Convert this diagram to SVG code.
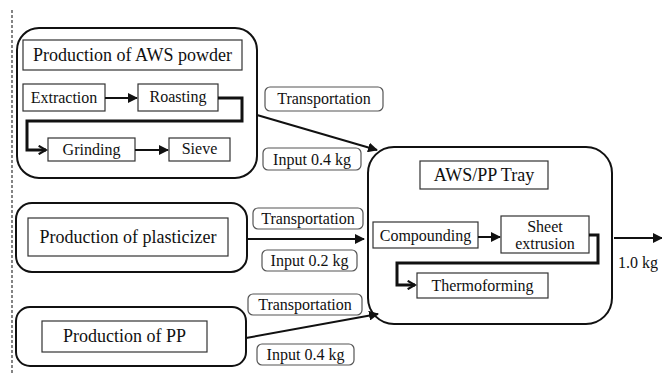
<svg xmlns="http://www.w3.org/2000/svg" width="662" height="375" viewBox="0 0 662 375">
<style>
.grp{fill:#fff;stroke:#111;stroke-width:2}
.box{fill:#fff;stroke:#333;stroke-width:1.2}
.lbl{fill:#fff;stroke:#555;stroke-width:1.2}
.t{font-family:'Liberation Serif','Times New Roman','DejaVu Serif',serif;fill:#111;text-anchor:middle}
.big{font-size:18px}
.sm{font-size:16px}
.ar{fill:none;stroke:#111;stroke-width:2;marker-end:url(#ah)}
.bold{fill:none;stroke:#111;stroke-width:3;marker-end:url(#ao)}
</style>
<defs>
<marker id="ah" viewBox="0 0 10 10" refX="9" refY="5" markerWidth="5" markerHeight="5" orient="auto" markerUnits="strokeWidth"><path d="M0,0 L10,5 L0,10 z" fill="#111"/></marker>
<marker id="ao" viewBox="0 0 10 10" refX="8" refY="5" markerWidth="3.5" markerHeight="3.5" orient="auto" markerUnits="strokeWidth"><path d="M1,1 L8,5 L1,9" fill="none" stroke="#111" stroke-width="2"/></marker>
</defs>
<rect width="662" height="375" fill="#fff"/>
<line x1="12" y1="10" x2="12" y2="375" stroke="#333" stroke-width="1.2" stroke-dasharray="3,2"/>

<g id="aws-group">
<rect class="grp" x="17" y="28" width="240" height="150" rx="22"/>
<g id="aws-title"><rect class="box" x="23" y="40" width="219" height="30"/><text class="t big" x="132.5" y="61">Production of AWS powder</text></g>
<g id="extraction"><rect class="box" x="23" y="84" width="82" height="27"/><text class="t sm" x="64" y="103">Extraction</text></g>
<g id="roasting"><rect class="box" x="138" y="84" width="80" height="27"/><text class="t sm" x="178" y="102">Roasting</text></g>
<g id="grinding"><rect class="box" x="48" y="138" width="87" height="23"/><text class="t sm" x="91.5" y="155">Grinding</text></g>
<g id="sieve"><rect class="box" x="169" y="138" width="61" height="23"/><text class="t sm" x="199.5" y="154">Sieve</text></g>
</g>

<g id="plasticizer-group">
<rect class="grp" x="16" y="203" width="231" height="69" rx="16"/>
<g id="plasticizer"><rect class="box" x="28" y="218" width="200" height="38"/><text class="t big" x="128" y="243">Production of plasticizer</text></g>
</g>

<g id="pp-group">
<rect class="grp" x="16" y="307" width="230" height="59" rx="14"/>
<g id="pp"><rect class="box" x="42" y="321" width="165" height="31"/><text class="t big" x="124.5" y="342">Production of PP</text></g>
</g>

<g id="tray-group">
<rect class="grp" x="368" y="147" width="244" height="177" rx="26"/>
<g id="tray-title"><rect class="box" x="420" y="161" width="128" height="28"/><text class="t big" x="484" y="181">AWS/PP Tray</text></g>
<g id="compounding"><rect class="box" x="373" y="222" width="105" height="26"/><text class="t sm" x="425.5" y="241">Compounding</text></g>
<g id="sheet"><rect class="box" x="501" y="216" width="88" height="37"/><text class="t sm" x="545" y="232">Sheet</text><text class="t sm" x="545" y="249">extrusion</text></g>
<g id="thermoforming"><rect class="box" x="417" y="273" width="131" height="25"/><text class="t sm" x="482.5" y="291">Thermoforming</text></g>
</g>

<g id="labels">
<g id="trans1"><rect class="lbl" x="265" y="87" width="118" height="24" rx="5"/><text class="t sm" x="324" y="104">Transportation</text></g>
<g id="input1"><rect class="lbl" x="263" y="148" width="98" height="22" rx="5"/><text class="t sm" x="312" y="165">Input 0.4 kg</text></g>
<g id="trans2"><rect class="lbl" x="253" y="208" width="110" height="21" rx="5"/><text class="t sm" x="308" y="224">Transportation</text></g>
<g id="input2"><rect class="lbl" x="262" y="250" width="95" height="21" rx="5"/><text class="t sm" x="309.5" y="266">Input 0.2 kg</text></g>
<g id="trans3"><rect class="lbl" x="248" y="294" width="114" height="21" rx="5"/><text class="t sm" x="305" y="310">Transportation</text></g>
<g id="input3"><rect class="lbl" x="257" y="344" width="97" height="21" rx="5"/><text class="t sm" x="305.5" y="360">Input 0.4 kg</text></g>
<text class="t sm" x="638" y="268">1.0 kg</text>
</g>

<g id="connectors">
<line class="ar" x1="105" y1="98" x2="137" y2="98"/>
<polyline class="bold" points="218,98 242,98 242,121 27,121 27,150 46,150"/>
<line class="ar" x1="135" y1="150" x2="168" y2="150"/>
<line class="ar" x1="257" y1="115" x2="377" y2="150"/>
<line class="ar" x1="247" y1="239" x2="364" y2="239"/>
<line class="ar" x1="246" y1="338" x2="378" y2="314"/>
<line class="ar" x1="478" y1="237" x2="500" y2="237"/>
<polyline class="bold" points="589,235 598,235 598,263 397,263 397,285 415,285"/>
<line class="ar" x1="614" y1="238" x2="662" y2="238"/>
</g>
</svg>
